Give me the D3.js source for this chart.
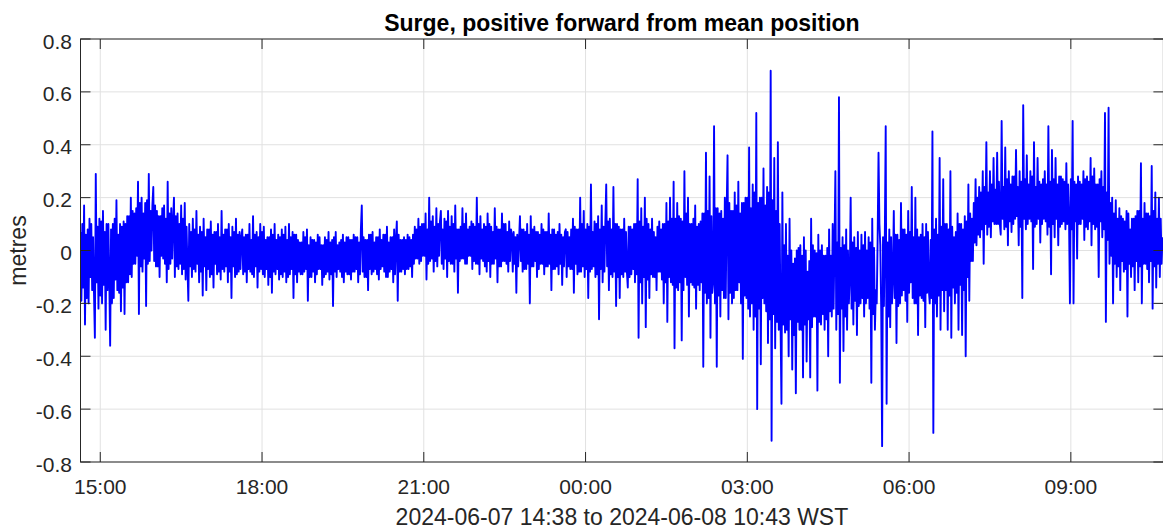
<!DOCTYPE html>
<html><head><meta charset="utf-8">
<script src="https://cdn.jsdelivr.net/npm/d3@7"></script>
<style>
body{margin:0;background:#fff;}
svg text{font-family:"Liberation Sans",Arial,Helvetica,sans-serif;fill:#262626;}
</style>
</head><body><svg id="chart" width="1163" height="532"></svg>
<script>
// ---- data ----
const startTime = Date.UTC(2024,5,7,14,38);
const endTime = Date.UTC(2024,5,8,10,43);
const sampleMinutes = 1;
// main readings (pairs of consecutive samples, every 4 minutes a pair)
const surgeMain = [
// 14:38
0.07,-0.19,0.17,-0.28,0.08,-0.2,0.1,-0.15,-0.33,0.29,-0.22,0.12,-0.2,0.15,-0.3,0.1,-0.1,-0.36,0.1,-0.18,0.19,-0.15,0.1,-0.23,0.11,-0.24,0.13,-0.12,0.2,-0.1,
// 15:38
0.14,-0.05,0.26,-0.24,0.2,-0.08,0.18,-0.21,0.29,-0.04,0.17,0.24,-0.06,0.15,-0.1,0.13,-0.03,0.17,-0.12,0.26,-0.05,0.16,0.2,-0.1,0.14,-0.07,0.17,-0.09,0.18,-0.11,
// 16:38
-0.19,0.1,-0.1,0.12,-0.08,0.15,-0.12,0.09,-0.17,0.12,-0.15,0.08,-0.1,0.11,-0.14,0.07,-0.09,0.1,-0.11,0.15,-0.08,0.08,-0.12,0.1,-0.18,0.09,-0.1,0.12,-0.08,0.07,
// 17:38
0.08,-0.09,0.06,-0.12,0.1,-0.08,0.13,-0.1,0.07,-0.14,0.1,-0.07,0.09,-0.1,0.05,-0.13,0.08,-0.16,0.1,-0.09,0.06,-0.11,0.08,-0.1,0.09,-0.12,0.1,-0.09,0.07,-0.18,
// 18:38
0.06,-0.12,0.03,-0.09,0.07,-0.08,0.08,-0.19,0.05,-0.1,0.04,-0.12,0.06,-0.07,0.02,-0.13,0.05,-0.09,0.07,-0.11,0.04,-0.21,0.07,-0.1,0.03,-0.08,0.06,-0.12,0.05,-0.09,
// 19:38
0.04,-0.11,0.06,-0.08,0.05,-0.12,0.08,0.17,-0.1,0.04,-0.15,0.06,-0.09,0.07,-0.07,0.05,-0.11,0.08,-0.06,0.06,-0.1,0.09,-0.08,0.05,-0.12,0.08,0.11,-0.19,0.04,-0.08,
// 20:38
0.05,-0.09,0.06,-0.07,0.04,-0.1,0.09,-0.03,0.12,-0.05,0.1,-0.02,0.14,-0.11,0.2,-0.04,0.13,-0.08,0.16,-0.06,0.11,0.15,-0.07,0.12,-0.1,0.15,-0.05,0.13,-0.08,0.17,
// 21:38
-0.16,0.08,-0.03,0.16,-0.05,0.14,-0.02,0.09,-0.07,0.1,-0.05,0.2,-0.09,0.13,-0.04,0.1,-0.08,0.14,-0.1,0.09,-0.05,0.16,-0.12,0.08,-0.06,0.14,-0.04,0.1,-0.08,0.11,
// 22:38
0.06,-0.08,0.05,-0.16,0.04,0.13,-0.08,0.08,-0.07,0.1,-0.2,0.13,-0.06,0.09,-0.1,0.07,-0.05,0.1,-0.09,0.07,-0.06,0.14,-0.15,0.08,-0.07,0.06,-0.09,0.1,-0.13,0.05,
// 23:38
0.08,-0.1,0.05,-0.07,0.12,-0.16,0.08,-0.09,0.2,-0.08,0.15,-0.1,0.1,-0.18,0.25,-0.07,0.11,-0.1,0.13,-0.26,0.17,-0.12,0.1,0.25,-0.15,0.12,-0.1,0.24,-0.21,0.1,
// 00:38
-0.18,0.08,-0.1,0.12,-0.08,-0.14,0.09,-0.09,0.1,-0.12,0.27,-0.33,0.16,-0.2,0.2,-0.29,0.1,-0.18,0.12,-0.1,0.05,-0.15,0.11,-0.08,0.1,-0.2,0.18,-0.27,0.2,-0.12,
// 01:38
0.26,-0.37,0.18,-0.15,0.12,-0.34,0.3,-0.1,0.2,-0.25,0.1,-0.13,0.17,-0.22,0.1,-0.15,0.14,-0.44,0.37,-0.2,0.28,-0.33,-0.12,0.47,-0.44,0.16,-0.25,0.15,-0.18,0.2,
// 02:38
0.36,-0.26,0.15,-0.2,0.22,-0.15,0.26,-0.12,0.18,-0.41,0.2,-0.18,0.39,-0.25,0.25,-0.3,0.52,-0.6,0.2,-0.43,0.31,-0.2,0.24,-0.35,0.68,-0.72,0.35,-0.37,0.41,-0.3,
// 03:38
-0.58,0.22,-0.31,0.1,-0.4,0.12,-0.45,-0.05,-0.54,0.0,-0.3,0.02,-0.48,0.05,-0.42,-0.08,-0.48,0.12,-0.25,0.0,-0.53,0.06,-0.28,0.02,-0.3,-0.02,-0.4,0.08,-0.25,0.1,
// 04:38
0.3,-0.3,0.58,-0.5,0.05,-0.38,0.08,-0.3,-0.1,0.2,-0.28,0.05,-0.32,0.07,-0.2,0.06,-0.25,0.07,-0.18,0.05,-0.5,0.12,-0.3,-0.15,0.37,0.1,-0.74,0.05,0.47,-0.58,
// 05:38
0.08,-0.29,-0.1,0.15,-0.35,0.06,-0.2,0.18,-0.15,0.08,-0.27,0.15,-0.12,0.24,-0.2,0.2,-0.32,0.05,-0.18,0.1,-0.29,0.1,-0.15,-0.2,0.45,-0.69,0.12,-0.25,0.35,-0.3,
// 06:38
0.27,-0.23,0.1,-0.3,0.3,-0.33,0.05,-0.2,0.14,-0.3,0.1,-0.32,0.13,-0.4,0.25,-0.19,0.12,-0.04,0.27,0.02,0.24,0.05,0.3,-0.05,0.41,0.06,0.3,0.05,0.35,0.1,
// 07:38
0.37,0.1,0.06,0.49,0.08,0.39,0.02,0.3,0.07,0.28,0.12,0.38,0.02,0.3,-0.18,0.55,0.08,0.36,0.12,0.3,-0.07,0.41,0.1,0.35,0.03,0.25,0.12,0.3,0.06,0.47,
// 08:38
-0.09,0.38,0.05,0.35,0.02,0.28,0.1,0.27,0.08,0.33,0.12,-0.2,0.49,-0.2,0.25,-0.03,0.26,0.1,0.3,0.04,0.28,0.08,0.35,0.02,0.31,0.08,0.25,-0.1,0.3,0.05,
// 09:38
0.52,-0.27,0.54,-0.05,0.2,-0.2,0.19,-0.1,0.16,-0.15,0.12,-0.08,0.15,-0.25,0.08,-0.1,0.12,-0.15,0.15,-0.12,0.33,-0.2,0.18,-0.05,0.14,-0.12,0.32,-0.22,0.22,-0.14,
// 10:38
0.2,-0.1,0.05
];
// in-between readings of the dense core band (one pair after each main pair)
const surgeCore = [
0.1,-0.14,0.06,-0.18,0.12,-0.1,0.05,-0.16,0.09,-0.12,0.11,-0.17,0.07,-0.13,0.1,-0.15,0.08,-0.2,0.12,-0.11,0.06,-0.16,0.09,-0.14,0.1,-0.12,0.13,-0.09,0.15,-0.05,
0.16,-0.02,0.18,-0.06,0.14,-0.03,0.19,-0.05,0.15,0.0,0.17,-0.04,0.13,-0.06,0.16,-0.02,0.12,-0.05,0.14,-0.07,0.11,-0.03,0.13,-0.06,0.1,-0.05,0.12,-0.07,0.09,-0.06,
0.07,-0.06,0.08,-0.07,0.06,-0.05,0.07,-0.08,0.05,-0.06,0.08,-0.07,0.06,-0.09,0.07,-0.05,0.05,-0.08,0.06,-0.07,0.08,-0.06,0.05,-0.08,0.07,-0.06,0.06,-0.09,0.05,-0.07,
0.05,-0.08,0.06,-0.07,0.04,-0.09,0.06,-0.06,0.05,-0.08,0.07,-0.09,0.04,-0.07,0.05,-0.1,0.06,-0.08,0.04,-0.07,0.05,-0.09,0.06,-0.08,0.04,-0.1,0.05,-0.07,0.06,-0.09,
0.04,-0.08,0.03,-0.09,0.05,-0.07,0.02,-0.1,0.04,-0.08,0.03,-0.09,0.05,-0.07,0.02,-0.1,0.04,-0.08,0.03,-0.09,0.05,-0.08,0.02,-0.07,0.04,-0.1,0.03,-0.08,0.05,-0.09,
0.04,-0.08,0.05,-0.07,0.03,-0.09,0.05,-0.08,0.04,-0.1,0.06,-0.07,0.03,-0.08,0.05,-0.09,0.04,-0.07,0.06,-0.08,0.03,-0.1,0.05,-0.07,0.04,-0.09,0.06,-0.08,0.04,-0.07,
0.04,-0.07,0.05,-0.06,0.06,-0.05,0.08,-0.03,0.09,-0.04,0.1,-0.02,0.08,-0.05,0.11,-0.03,0.09,-0.04,0.1,-0.02,0.08,-0.05,0.11,-0.03,0.09,-0.04,0.1,-0.05,0.08,-0.03,
0.09,-0.04,0.1,-0.03,0.08,-0.05,0.11,-0.02,0.09,-0.04,0.1,-0.05,0.08,-0.03,0.09,-0.06,0.1,-0.04,0.07,-0.05,0.09,-0.03,0.08,-0.06,0.1,-0.04,0.07,-0.05,0.08,-0.04,
0.07,-0.05,0.06,-0.06,0.08,-0.04,0.07,-0.07,0.06,-0.05,0.08,-0.06,0.07,-0.04,0.06,-0.07,0.08,-0.05,0.07,-0.06,0.06,-0.05,0.08,-0.07,0.07,-0.06,0.06,-0.05,0.07,-0.06,
0.07,-0.06,0.08,-0.07,0.09,-0.05,0.08,-0.08,0.1,-0.06,0.08,-0.07,0.09,-0.08,0.07,-0.06,0.1,-0.09,0.08,-0.07,0.09,-0.08,0.11,-0.06,0.08,-0.09,0.1,-0.08,0.09,-0.1,
0.08,-0.09,0.07,-0.08,0.09,-0.1,0.08,-0.07,0.1,-0.09,0.11,-0.12,0.09,-0.1,0.12,-0.11,0.08,-0.09,0.07,-0.1,0.09,-0.08,0.08,-0.11,0.1,-0.12,0.11,-0.1,0.12,-0.13,
0.12,-0.14,0.13,-0.12,0.11,-0.15,0.14,-0.13,0.1,-0.12,0.12,-0.14,0.09,-0.13,0.11,-0.12,0.14,-0.16,0.15,-0.18,0.13,-0.16,0.16,-0.2,0.14,-0.17,0.12,-0.15,0.15,-0.18,
0.18,-0.16,0.15,-0.18,0.17,-0.15,0.14,-0.2,0.18,-0.17,0.2,-0.22,0.16,-0.2,0.22,-0.25,0.18,-0.22,0.2,-0.18,0.17,-0.23,0.22,-0.26,0.19,-0.24,0.15,-0.27,0.1,-0.28,
0.02,-0.28,-0.02,-0.3,0.0,-0.26,-0.03,-0.32,0.01,-0.27,-0.02,-0.3,0.0,-0.28,-0.04,-0.26,0.02,-0.29,-0.01,-0.25,0.0,-0.27,-0.02,-0.24,0.01,-0.26,-0.02,-0.23,0.02,-0.22,
0.03,-0.24,0.01,-0.22,0.02,-0.25,0.0,-0.2,0.03,-0.22,0.01,-0.19,0.0,-0.21,0.02,-0.18,0.0,-0.2,0.03,-0.22,0.01,-0.24,0.04,-0.2,0.02,-0.23,0.05,-0.21,0.03,-0.25,
0.05,-0.2,0.06,-0.18,0.04,-0.21,0.08,-0.17,0.06,-0.19,0.07,-0.16,0.05,-0.18,0.08,-0.2,0.06,-0.17,0.05,-0.19,0.07,-0.16,0.04,-0.18,0.08,-0.2,0.06,-0.17,0.09,-0.15,
0.1,-0.15,0.08,-0.17,0.09,-0.14,0.07,-0.16,0.1,-0.13,0.08,-0.15,0.11,-0.1,0.14,-0.04,0.18,0.03,0.2,0.06,0.22,0.08,0.24,0.1,0.22,0.09,0.25,0.11,0.23,0.1,
0.26,0.1,0.24,0.12,0.27,0.09,0.25,0.11,0.28,0.1,0.24,0.13,0.26,0.09,0.27,0.12,0.25,0.1,0.28,0.11,0.24,0.09,0.26,0.12,0.27,0.1,0.25,0.11,0.26,0.09,
0.27,0.1,0.25,0.12,0.28,0.09,0.26,0.11,0.25,0.1,0.27,0.08,0.26,0.11,0.28,0.1,0.25,0.12,0.27,0.09,0.26,0.11,0.28,0.1,0.25,0.09,0.27,0.11,0.24,0.08,
0.22,0.04,0.18,-0.02,0.14,-0.05,0.12,-0.06,0.13,-0.04,0.11,-0.07,0.14,-0.05,0.12,-0.06,0.13,-0.04,0.15,-0.06,0.12,-0.05,0.14,-0.07,0.13,-0.04,0.15,-0.06,0.12,-0.05,
0.12,-0.05
];
const yTickValues = [-0.8,-0.6,-0.4,-0.2,0,0.2,0.4,0.6,0.8];
const titleText = "Surge, positive forward from mean position";
const xLabelText = "2024-06-07 14:38 to 2024-06-08 10:43 WST";
const yLabelText = "metres";

// ---- assemble the sample sequence: main pair, then core pair (ordered to keep the trace alternating) ----
const series = [];
for (let k = 0; 2 * k + 1 < surgeMain.length; k++) {
  const a = surgeMain[2 * k], b = surgeMain[2 * k + 1];
  series.push(a, b);
  const c0 = surgeCore[2 * k], c1 = surgeCore[2 * k + 1];
  if (c0 === undefined) continue;
  const lo = Math.min(c0, c1), hi = Math.max(c0, c1);
  if (b > a) series.push(lo, hi); else series.push(hi, lo);
}
if (surgeMain.length % 2 === 1) series.push(surgeMain[surgeMain.length - 1]);

// ---- layout ----
const L = 80.5, R = 1163.4, T = 39, B = 462;
const tickLen = 10;

const svg = d3.select("#chart");
const x = d3.scaleUtc().domain([startTime, endTime]).range([L, R]);
const y = d3.scaleLinear().domain([-0.8, 0.8]).range([B, T]);
const xTicks = x.ticks(d3.utcHour.every(3));
const fmtX = d3.utcFormat("%H:%M");
const fmtY = v => (Math.abs(v) < 1e-9 ? "0" : d3.format(".1f")(v).replace("\u2212", "-"));

const points = series.map((v, i) => ({t: new Date(startTime + i * sampleMinutes * 60000), v}));

// grid
const grid = svg.append("g");
grid.selectAll(".gx").data(xTicks).join("line")
  .attr("x1", d => x(d)).attr("x2", d => x(d)).attr("y1", T).attr("y2", B)
  .attr("stroke", "#e1e1e1").attr("stroke-width", 1);
grid.selectAll(".gy").data(yTickValues).join("line")
  .attr("x1", L).attr("x2", R).attr("y1", d => y(d)).attr("y2", d => y(d))
  .attr("stroke", "#e1e1e1").attr("stroke-width", 1);

// clip + data
svg.append("clipPath").attr("id", "clip").append("rect")
  .attr("x", L).attr("y", T).attr("width", R - L).attr("height", B - T);
const line = d3.line().x(d => x(d.t)).y(d => y(d.v));
svg.append("path").datum(points)
  .attr("clip-path", "url(#clip)")
  .attr("d", line).attr("fill", "none")
  .attr("stroke", "#0000ff").attr("stroke-width", 1.9)
  .attr("stroke-linejoin", "round");

// box
svg.append("rect").attr("x", L).attr("y", T).attr("width", R - L).attr("height", B - T)
  .attr("fill", "none").attr("stroke", "#262626").attr("stroke-width", 1);

// ticks
const tk = svg.append("g").attr("stroke", "#262626").attr("stroke-width", 1);
xTicks.forEach(d => {
  tk.append("line").attr("x1", x(d)).attr("x2", x(d)).attr("y1", B).attr("y2", B - tickLen);
  tk.append("line").attr("x1", x(d)).attr("x2", x(d)).attr("y1", T).attr("y2", T + tickLen);
});
yTickValues.forEach(d => {
  tk.append("line").attr("x1", L).attr("x2", L + tickLen).attr("y1", y(d)).attr("y2", y(d));
  tk.append("line").attr("x1", R).attr("x2", R - tickLen).attr("y1", y(d)).attr("y2", y(d));
});

// tick labels
svg.append("g").selectAll("text").data(xTicks).join("text")
  .attr("x", d => x(d)).attr("y", 494).attr("text-anchor", "middle")
  .attr("font-size", 21).text(d => fmtX(d));
svg.append("g").selectAll("text").data(yTickValues).join("text")
  .attr("x", 72).attr("y", d => y(d) + 9.5).attr("text-anchor", "end")
  .attr("font-size", 21).text(d => fmtY(d));

// title & labels
svg.append("text").attr("x", (L + R) / 2).attr("y", 31).attr("text-anchor", "middle")
  .attr("font-size", 23).attr("font-weight", "bold").style("fill", "#000").text(titleText);
svg.append("text").attr("x", (L + R) / 2).attr("y", 525).attr("text-anchor", "middle")
  .attr("font-size", 23).text(xLabelText);
svg.append("text").attr("transform", `translate(26,${(T + B) / 2}) rotate(-90)`)
  .attr("text-anchor", "middle").attr("font-size", 23).text(yLabelText);
</script>
</body></html>
